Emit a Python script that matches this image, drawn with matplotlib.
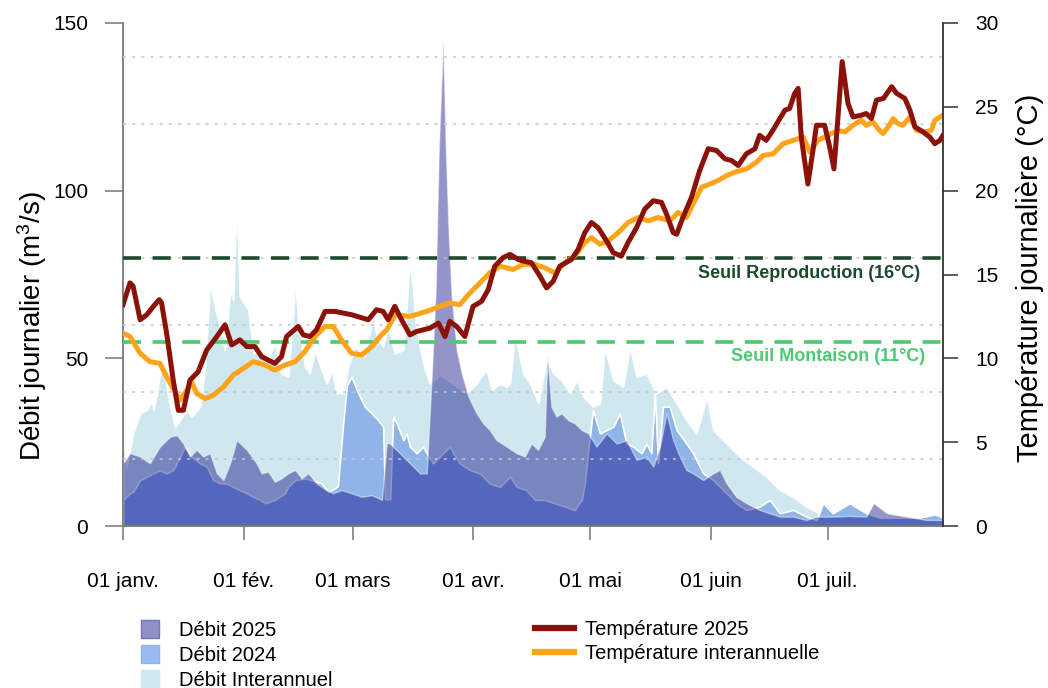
import numpy as np
import matplotlib
matplotlib.use("Agg")
import matplotlib.pyplot as plt
from matplotlib.patches import Patch
from matplotlib.lines import Line2D

plt.rcParams['font.family'] = ['Liberation Sans', 'DejaVu Sans']
plt.rcParams['mathtext.default'] = 'regular'

# day of year (0 = 1 janv.) and values

# temperature 2025 (°C)
t25_day = [0, 1.8, 2.6, 4.4, 6.1, 7.8, 9.3, 9.9, 11.2, 12.9,
           14.2, 15.5, 17.2, 19.3, 21.5, 24.1, 26.2, 27.9, 30.0, 31.8,
           33.9, 35.6, 39.0, 40.7, 42.0, 45.0, 46.3, 48.0, 49.7, 51.9,
           54.4, 58.7, 63.0, 65.1, 66.8, 68.1, 69.8, 72.0, 73.7, 75.4,
           78.8, 81.0, 82.7, 83.9, 85.7, 87.8, 89.9, 92.1, 93.8, 95.5,
           97.6, 99.4, 101.5, 102.8, 104.9, 107.1, 108.8, 110.5, 112.2, 115.2,
           116.9, 118.6, 120.3, 122.0, 124.2, 125.9, 128.0, 129.7, 131.9, 134.0,
           136.2, 138.3, 139.6, 141.3, 142.2, 143.8, 146.0, 148.1, 150.3, 152.4,
           154.6, 156.3, 158.0, 160.1, 162.3, 163.5, 165.2, 166.9, 168.7, 170.0,
           171.2, 172.5, 173.4, 174.2, 175.9, 177.2, 178.1, 180.2, 181.5, 182.6,
           183.5, 184.7, 186.2, 187.5, 189.6, 190.9, 192.2, 193.5, 195.3, 197.4,
           198.7, 200.8, 202.1, 203.4, 205.5, 207.2, 208.5, 209.8, 210.6]
t25 = [13.2, 14.5, 14.3, 12.3, 12.6, 13.1, 13.5, 13.3, 11.5, 8.7,
       6.9, 6.9, 8.7, 9.2, 10.5, 11.3, 12.0, 10.8, 11.1, 10.7,
       10.7, 10.1, 9.7, 10.1, 11.3, 11.9, 11.4, 11.3, 11.7, 12.8,
       12.8, 12.6, 12.3, 12.9, 12.8, 12.3, 13.1, 12.1, 11.4, 11.6,
       11.8, 12.1, 11.3, 12.2, 11.9, 11.3, 13.1, 13.4, 14.1, 15.5,
       16.0, 16.2, 15.9, 15.8, 15.7, 14.9, 14.2, 14.6, 15.5, 15.9,
       16.5, 17.5, 18.1, 17.8, 17.0, 16.3, 16.1, 16.9, 17.8, 18.9,
       19.4, 19.3, 18.6, 17.5, 17.4, 18.4, 19.6, 21.2, 22.5, 22.4,
       21.9, 21.8, 21.5, 22.2, 22.5, 23.3, 23.0, 23.6, 24.3, 24.8,
       24.9, 25.8, 26.1, 23.2, 20.4, 22.4, 23.9, 23.9, 22.6, 21.3,
       24.0, 27.7, 25.2, 24.4, 24.5, 24.6, 24.3, 25.4, 25.5, 26.2,
       25.8, 25.5, 24.8, 23.8, 23.5, 23.2, 22.8, 23.0, 23.3]

# interannual temperature (°C)
tia_day = [0, 1.8, 4.4, 6.9, 9.5, 11.2, 12.9, 14.6, 16.4, 17.6,
           18.9, 21.1, 23.2, 25.8, 28.3, 30.9, 33.5, 36.5, 39.0, 41.6,
           44.2, 46.7, 49.3, 51.9, 54.0, 56.1, 58.7, 61.3, 63.9, 66.0,
           67.7, 70.0, 73.7, 78.0, 81.4, 83.9, 86.5, 89.1, 91.7, 94.2,
           96.8, 100.2, 102.8, 105.8, 108.3, 110.9, 113.5, 116.0, 118.6, 120.3,
           122.5, 124.6, 127.2, 129.7, 132.3, 134.9, 137.4, 140.4, 142.6, 144.7,
           146.4, 148.6, 150.7, 152.8, 155.0, 157.1, 160.1, 162.7, 164.4, 167.0,
           169.5, 172.1, 174.7, 176.4, 178.5, 180.2, 181.9, 183.6, 185.4, 187.5,
           189.6, 190.9, 192.6, 193.9, 195.2, 196.5, 197.8, 199.0, 200.3, 202.1,
           203.8, 205.9, 207.6, 208.5, 210.6]
tia = [11.5, 11.3, 10.3, 9.8, 9.7, 8.9, 8.2, 7.5, 8.1, 8.6,
       7.9, 7.6, 7.8, 8.3, 9.0, 9.4, 9.8, 9.6, 9.3, 9.6,
       9.8, 10.4, 11.3, 11.9, 11.9, 11.1, 10.3, 10.2, 10.7, 11.3,
       11.7, 12.6, 12.5, 12.8, 13.1, 13.3, 13.2, 13.9, 14.5, 15.1,
       15.5, 15.3, 15.6, 15.6, 15.4, 15.1, 15.7, 16.1, 16.9, 17.2,
       16.8, 17.0, 17.5, 18.1, 18.4, 18.2, 18.4, 18.2, 18.7, 18.4,
       19.2, 20.2, 20.4, 20.6, 20.9, 21.1, 21.3, 21.7, 22.1, 22.2,
       22.8, 23.0, 23.2, 22.3, 23.0, 23.2, 23.4, 23.6, 23.5, 23.9,
       24.2, 23.9, 24.1, 23.7, 23.4, 23.8, 24.3, 24.0, 23.9, 24.4,
       23.6, 23.5, 23.6, 24.2, 24.5]

# interannual discharge (m3/s)
qia_day = [0, 0.9, 2.6, 4.4, 6.1, 7.4, 7.8, 8.7, 9.9, 10.8,
           12.1, 13.4, 14.6, 16.4, 17.6, 19.8, 21.1, 22.3, 23.6, 24.9,
           26.2, 27.5, 28.3, 29.2, 30.0, 32.2, 33.5, 35.6, 37.3, 39.0,
           40.7, 42.4, 43.7, 44.2, 45.0, 46.7, 48.0, 49.3, 51.0, 52.3,
           53.6, 54.9, 56.6, 57.8, 59.6, 62.1, 64.3, 65.1, 66.8, 68.1,
           69.8, 72.0, 73.7, 75.4, 77.1, 78.8, 81.4, 85.2, 88.2, 90.8,
           92.5, 93.4, 94.7, 96.8, 98.5, 99.4, 100.6, 102.8, 104.5, 106.7,
           108.8, 110.5, 112.6, 114.8, 116.5, 118.2, 120.7, 122.5, 123.7, 125.9,
           128.4, 130.2, 131.9, 134.4, 137.0, 139.6, 142.2, 144.7, 147.3, 149.9,
           151.6, 155.0, 158.4, 161.8, 165.3, 168.7, 172.1, 175.5, 178.9, 180.7,
           182.8, 186.6, 190.4, 193.1, 198.2, 203.3, 208.5, 210.6]
qia = [28.6, 17.7, 27.6, 33.6, 34.6, 37.6, 34.6, 39.6, 48.5, 44.5,
       35.6, 29.6, 31.6, 34.6, 32.6, 35.6, 47.5, 72.4, 65.4, 59.4,
       52.5, 70.4, 67.4, 97.0, 68.4, 64.4, 51.5, 52.5, 49.5, 54.5,
       45.5, 44.5, 63.4, 73.4, 61.4, 47.5, 45.5, 52.5, 46.5, 42.5,
       46.5, 39.6, 39.6, 47.5, 53.5, 50.5, 63.4, 56.5, 53.5, 59.4,
       51.5, 52.5, 80.0, 58.4, 48.5, 42.5, 45.0, 42.0, 39.6, 42.5,
       45.5, 46.5, 40.6, 42.5, 41.5, 42.5, 57.4, 45.5, 42.5, 36.6,
       50.0, 45.5, 43.5, 39.6, 43.5, 38.6, 35.6, 36.6, 53.5, 43.5,
       41.5, 53.5, 44.5, 45.5, 39.6, 41.5, 36.6, 31.6, 27.6, 38.6,
       28.6, 24.6, 20.7, 17.7, 14.7, 10.7, 8.7, 5.8, 3.8, 6.8,
       3.8, 6.8, 2.8, 1.8, 1.8, 1.8, 3.8, 2.8]

# discharge 2024 (m3/s)
q24_day = [0, 1.8, 2.6, 4.4, 6.1, 7.8, 9.5, 11.2, 12.9, 14.2,
           15.9, 17.6, 19.8, 21.5, 23.2, 24.9, 26.6, 28.3, 30.0, 31.8,
           33.5, 35.2, 36.5, 39.0, 41.6, 42.4, 44.2, 46.7, 48.4, 51.0,
           52.7, 54.4, 55.2, 56.5, 57.5, 58.7, 60.4, 62.1, 63.9, 65.5,
           66.8, 67.3, 68.6, 69.4, 70.3, 72.0, 72.8, 73.7, 75.4, 77.1,
           78.0, 79.7, 82.2, 84.0, 84.8, 86.5, 89.1, 91.7, 94.2, 96.8,
           99.4, 101.1, 103.6, 105.8, 108.3, 110.9, 113.5, 116.0, 117.8, 118.6,
           119.5, 120.7, 122.5, 124.2, 125.9, 127.6, 129.3, 131.0, 133.2, 134.4,
           135.7, 136.6, 137.4, 138.7, 140.4, 142.2, 144.7, 146.4, 149.0, 151.6,
           155.0, 157.5, 160.1, 163.5, 166.1, 168.7, 172.1, 175.5, 178.1, 179.8,
           182.3, 186.6, 190.9, 194.3, 199.5, 204.6, 208.5, 210.6]
q24 = [7.8, 9.8, 10.2, 13.7, 14.7, 15.7, 16.7, 15.7, 16.7, 19.7,
       23.7, 20.7, 18.7, 17.7, 13.7, 12.7, 12.7, 11.7, 10.7, 9.8,
       8.7, 7.8, 6.8, 7.8, 9.8, 11.7, 13.7, 14.2, 13.7, 12.7,
       10.2, 11.2, 12.0, 30.0, 42.0, 44.5, 39.6, 35.6, 33.6, 31.6,
       29.6, 8.0, 8.0, 32.6, 30.6, 25.6, 27.6, 23.7, 21.7, 23.7,
       21.7, 18.7, 21.7, 23.7, 21.7, 18.7, 16.7, 15.7, 12.7, 11.7,
       14.7, 11.7, 10.7, 7.8, 7.8, 6.8, 5.8, 4.8, 7.8, 12.7,
       22.7, 34.6, 27.6, 28.6, 29.6, 33.6, 24.6, 23.7, 21.7, 24.6,
       21.7, 39.6, 18.7, 35.6, 35.6, 28.6, 24.6, 21.7, 15.7, 13.7,
       9.8, 6.8, 4.8, 5.8, 7.8, 3.8, 4.8, 2.8, 1.8, 6.8,
       3.8, 6.8, 3.8, 2.5, 2.5, 2.5, 3.5, 2.5]

# discharge 2025 (m3/s)
q25_day = [0, 1.8, 4.4, 6.9, 9.5, 12.1, 13.8, 15.5, 17.2, 18.9,
           20.6, 22.3, 24.1, 25.8, 27.5, 29.2, 31.8, 34.3, 35.6, 37.3,
           39.0, 40.7, 42.4, 44.2, 45.9, 47.6, 49.7, 52.3, 54.0, 56.1,
           58.7, 61.3, 63.9, 66.5, 67.7, 68.5, 71.1, 73.7, 76.3, 78.0,
           79.3, 80.3, 81.1, 82.2, 82.9, 83.6, 84.4, 85.7, 87.0, 88.7,
           90.8, 92.5, 94.2, 95.9, 98.5, 101.1, 103.2, 104.9, 106.6, 108.3,
           109.0, 110.0, 111.3, 112.6, 114.3, 116.0, 117.8, 119.5, 121.6, 124.2,
           126.8, 129.3, 131.9, 134.4, 136.2, 137.9, 139.6, 141.3, 143.0, 144.7,
           146.4, 149.0, 151.6, 153.3, 155.0, 157.5, 160.1, 163.5, 168.7, 172.1,
           175.5, 178.1, 182.3, 186.6, 190.9, 192.8, 196.2, 201.2, 206.4, 210.6]
q25 = [18.7, 21.7, 20.7, 18.7, 23.7, 26.6, 27.1, 24.6, 20.7, 22.7,
       20.7, 21.7, 15.7, 13.7, 18.7, 25.6, 22.7, 18.7, 15.7, 16.2,
       13.2, 14.2, 15.7, 16.7, 14.2, 15.7, 12.7, 10.7, 9.8, 10.7,
       9.8, 8.7, 9.2, 7.8, 24.6, 24.6, 21.7, 18.7, 15.7, 15.7,
       45.0, 70.0, 112.0, 145.0, 112.0, 88.0, 68.4, 52.5, 45.5, 38.6,
       33.6, 30.6, 28.6, 25.6, 23.7, 21.7, 20.7, 24.6, 22.7, 26.6,
       50.5, 35.6, 32.6, 33.6, 31.6, 30.6, 28.6, 27.6, 23.7, 27.6,
       24.6, 25.6, 19.7, 20.7, 17.7, 23.7, 33.6, 25.6, 20.7, 16.7,
       15.7, 13.7, 15.7, 16.7, 12.7, 8.7, 6.8, 4.8, 2.8, 2.8,
       1.8, 2.8, 2.8, 3.0, 2.8, 6.8, 3.8, 2.8, 1.8, 1.8]

month_days = [0, 31, 59, 90, 120, 151, 181]
month_labels = ['01 janv.', '01 fév.', '01 mars', '01 avr.', '01 mai', '01 juin', '01 juil.']

c_ia = '#cfe7ef'
c_24 = '#8fb4e8'
c_25 = (0.0, 0.0, 0.5, 0.42)
c_t25 = '#8b1208'
c_tia = '#ffa31a'
c_repro = '#1c4a2c'
c_mont = '#4cca72'

fig = plt.figure(figsize=(10.48, 6.88), dpi=100)
ax = fig.add_axes([123 / 1048, 1 - 526 / 688, 820 / 1048, 503 / 688])
ax2 = ax.twinx()

ax.fill_between(qia_day, qia, color=c_ia, edgecolor='white', linewidth=1.2, zorder=1)
ax.fill_between(q24_day, q24, color=c_24, edgecolor='white', linewidth=1.2, zorder=1.1)
ax.fill_between(q25_day, q25, facecolor=c_25, edgecolor=(1, 1, 1, 0.45), linewidth=1.0, zorder=1.2)

ax.set_xlim(0, 210.6)
ax.set_ylim(0, 150)
ax.set_yticks([0, 50, 100, 150])
ax.set_yticks(np.arange(20, 150, 20), minor=True)
ax.grid(which='minor', axis='y', color='#c8c8c8', linestyle=(0, (2, 4)), linewidth=1.1)
ax.set_axisbelow(False)
ax.set_xticks(month_days)
ax.set_xticklabels(month_labels)

ax.tick_params(axis='y', which='major', length=13, width=1.1, pad=12, labelsize=15, color='#777777')
ax.tick_params(axis='y', which='minor', left=False)
ax.tick_params(axis='x', length=10, width=1.1, pad=23, labelsize=15, color='#777777')
for s in ['top', 'right']:
    ax.spines[s].set_visible(False)
ax.spines['left'].set_color('#777777')
ax.spines['bottom'].set_color('#777777')
ax.spines['left'].set_linewidth(1.3)
ax.spines['bottom'].set_linewidth(1.3)

ax2.set_ylim(0, 30)
ax2.set_yticks(np.arange(0, 31, 5))
ax2.axhline(16, color=c_repro, linewidth=2.6, linestyle=(0, (5, 3.2)), zorder=1)
ax2.axhline(11, color=c_mont, linewidth=2.6, linestyle=(0, (5, 3.2)), zorder=1)
ax2.text(204.6, 15.05, 'Seuil Reproduction (16°C)', ha='right', va='center',
         fontsize=13, fontweight='bold', color=c_repro)
ax2.text(205.9, 10.1, 'Seuil Montaison (11°C)', ha='right', va='center',
         fontsize=13, fontweight='bold', color=c_mont)
ax2.plot(tia_day, tia, color=c_tia, linewidth=3.6, zorder=2)
ax2.plot(t25_day, t25, color=c_t25, linewidth=3.6, zorder=3)
ax2.tick_params(axis='y', length=11, width=1.1, pad=12, labelsize=15, color='#333333')
for s in ['top', 'left', 'bottom']:
    ax2.spines[s].set_visible(False)
ax2.spines['right'].set_color('#333333')
ax2.spines['right'].set_linewidth(1.3)

fig.text(32 / 1048, 1 - 326 / 688, 'Débit journalier (m$^3$/s)', rotation=90,
         ha='center', va='center', fontsize=20)
fig.text(1030 / 1048, 1 - 278 / 688, 'Température journalière (°C)', rotation=90,
         ha='center', va='center', fontsize=21)

h1 = [Patch(facecolor='#8f90c6', edgecolor='#7476b4'),
      Patch(facecolor='#9bbcee', edgecolor='#8fb4e8'),
      Patch(facecolor=c_ia, edgecolor=c_ia)]
fig.legend(h1, ['Débit 2025', 'Débit 2024', 'Débit Interannuel'],
           loc='upper left', bbox_to_anchor=(141 / 1048, 1 - 620 / 688),
           frameon=False, fontsize=14.5, handlelength=0.9, handleheight=1.0,
           handletextpad=1.0, labelspacing=0.25, borderpad=0, borderaxespad=0)

h2 = [Line2D([], [], color=c_t25, linewidth=4.5),
      Line2D([], [], color=c_tia, linewidth=4.5)]
fig.legend(h2, ['Température 2025', 'Température interannuelle'],
           loc='upper left', bbox_to_anchor=(535 / 1048, 1 - 620 / 688),
           frameon=False, fontsize=14.5, handlelength=1.95,
           handletextpad=0.55, labelspacing=0.25, borderpad=0, borderaxespad=0)

fig.savefig('out.png', dpi=100)
